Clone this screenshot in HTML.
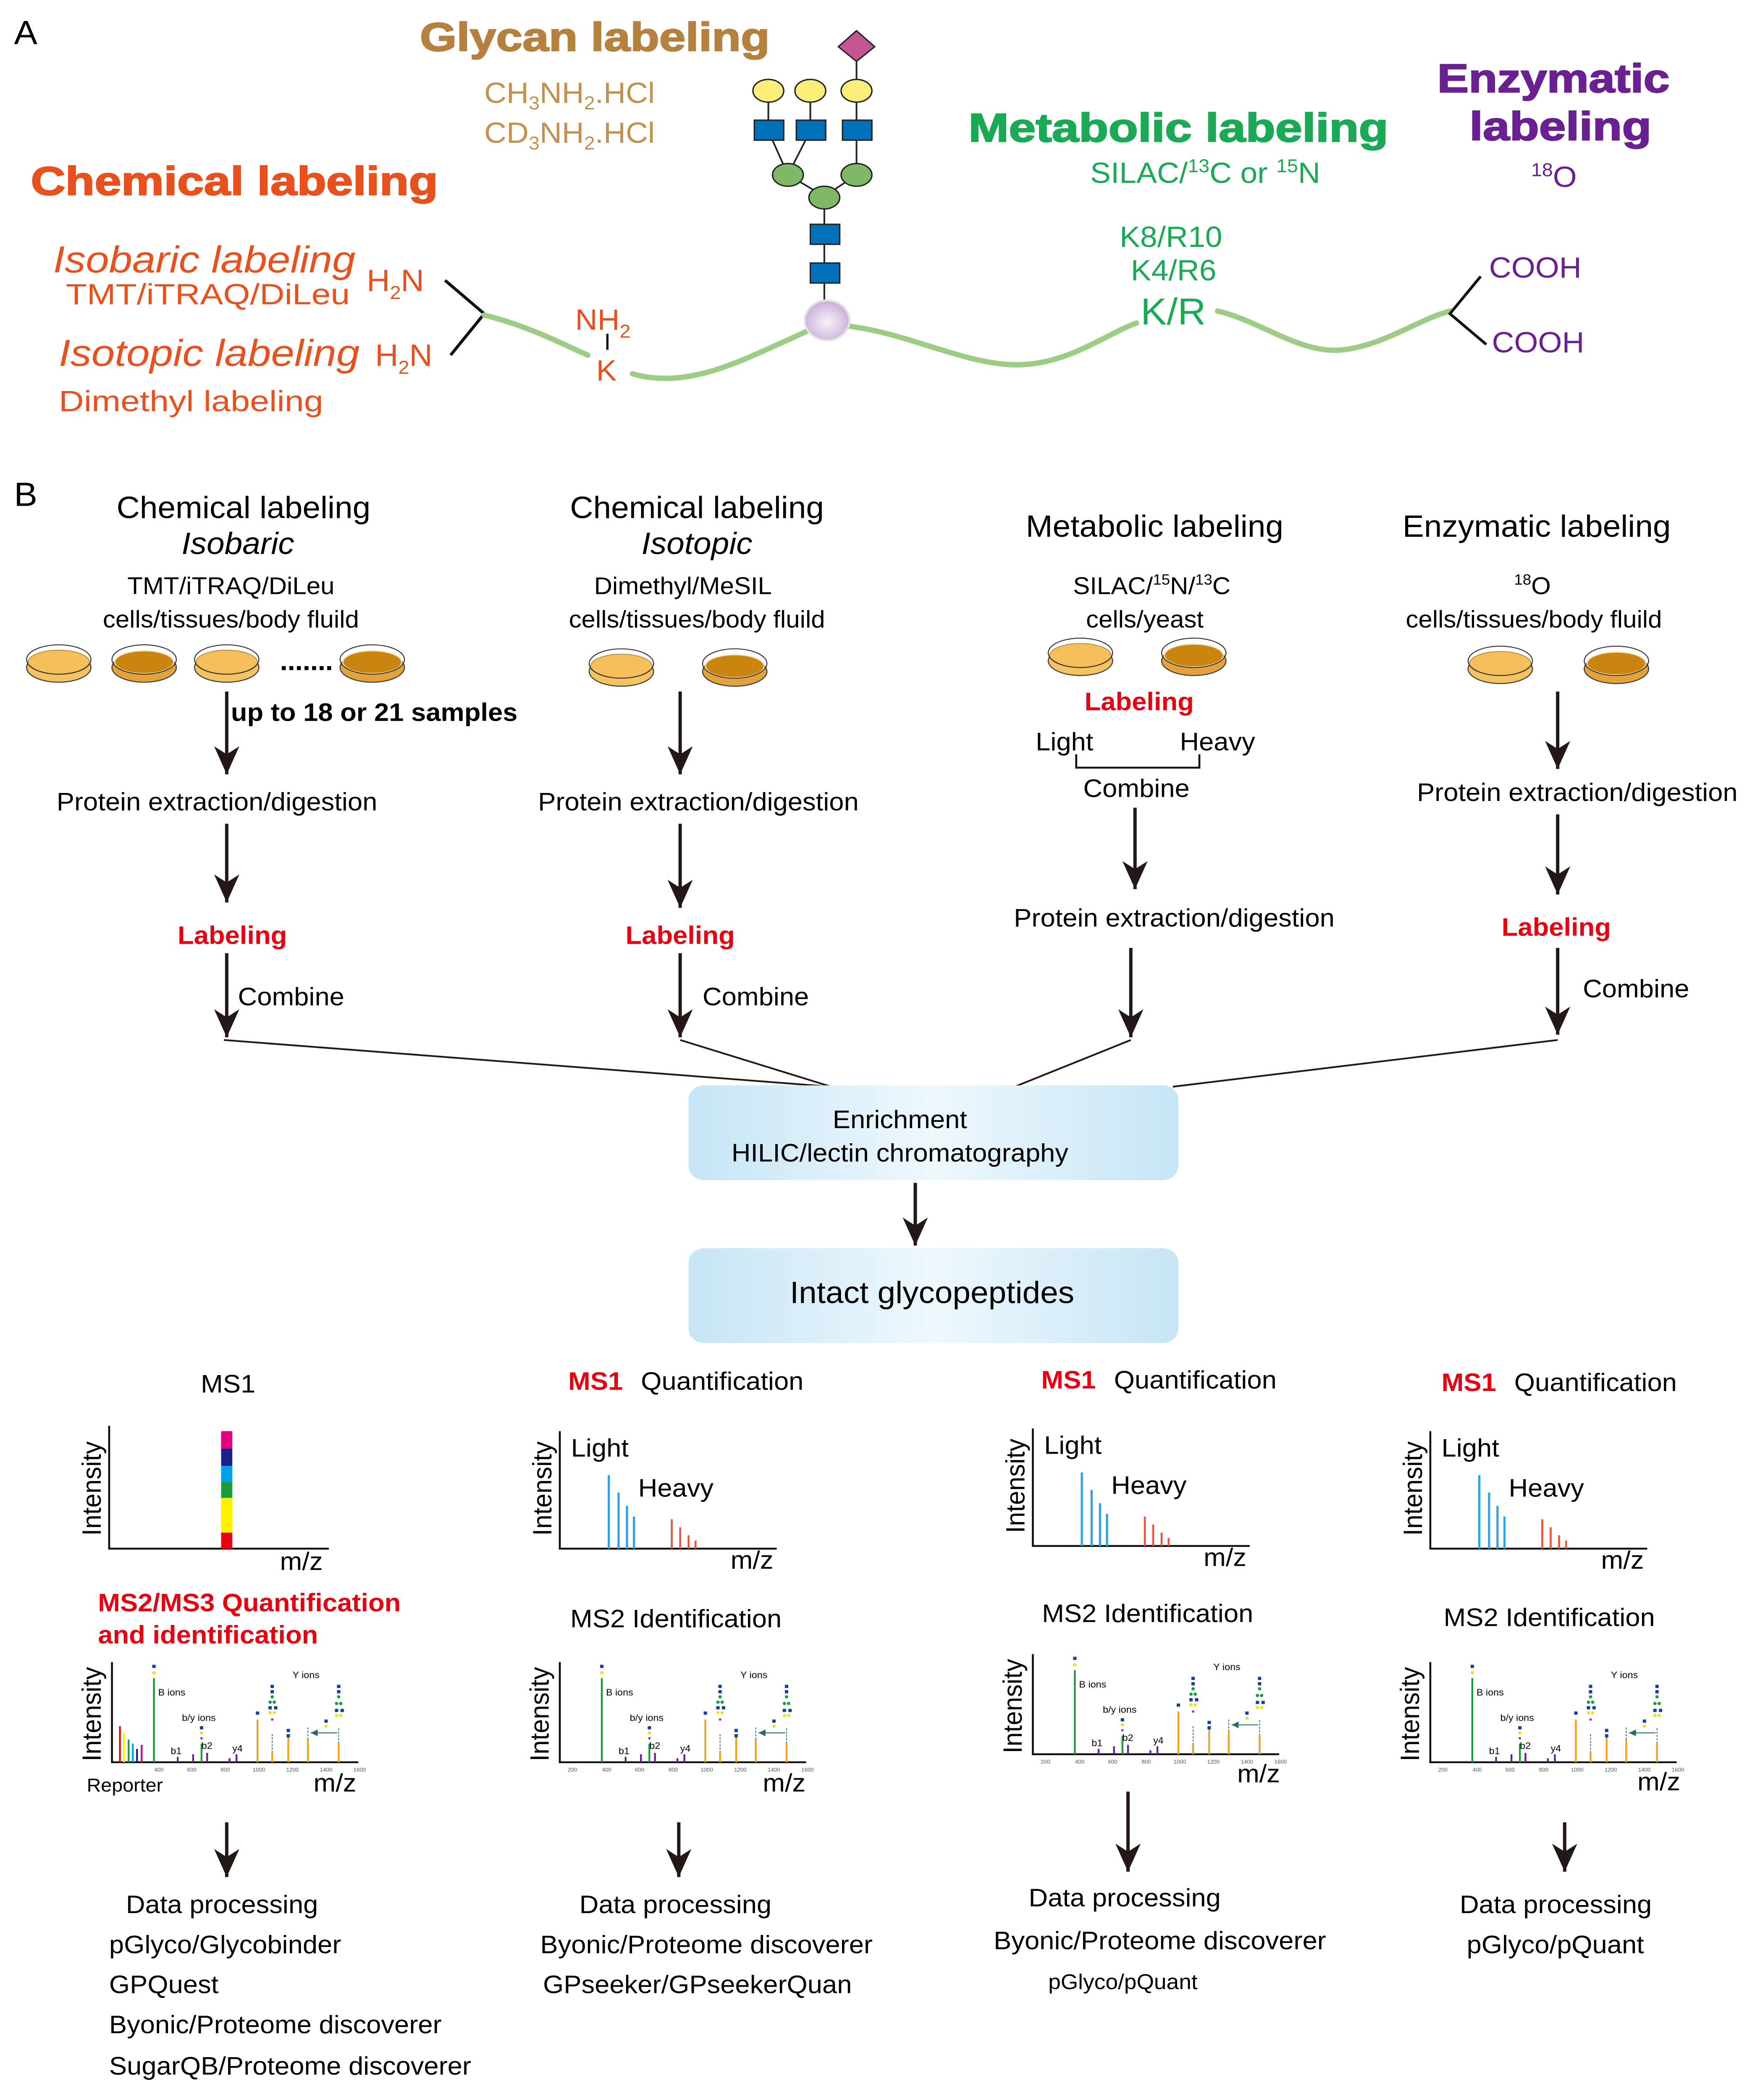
<!DOCTYPE html>
<html><head><meta charset="utf-8"><style>
html,body{margin:0;padding:0;background:#fff;width:100%;height:100%;overflow:hidden}
svg{display:block;width:100vw;height:100vh;position:absolute;left:0;top:0}
text{font-family:"Liberation Sans",Arial,sans-serif}
</style></head><body>
<svg viewBox="0 0 1254 1573" preserveAspectRatio="none" xmlns="http://www.w3.org/2000/svg">
<defs>
<marker id="ah" markerUnits="userSpaceOnUse" markerWidth="24" markerHeight="24" viewBox="-22 -11 24 22" refX="0" refY="0" orient="auto">
<path d="M0,0 L-21,-9 L-15,0 L-21,9 Z" fill="#231815"/>
</marker>
<marker id="sa" markerUnits="userSpaceOnUse" markerWidth="6" markerHeight="6" viewBox="-6 -3 6 6" refX="0" refY="0" orient="auto">
<path d="M0,0 L-5,-2.5 L-5,2.5 Z" fill="#2b6a6a"/>
</marker>
<linearGradient id="bx" x1="0" x2="1" y1="0" y2="0">
<stop offset="0" stop-color="#c6e5f5"/><stop offset="0.5" stop-color="#eef8fd"/><stop offset="1" stop-color="#c6e5f5"/>
</linearGradient>
<radialGradient id="ball" cx="0.5" cy="0.55" r="0.55">
<stop offset="0" stop-color="#f8f2fb"/><stop offset="1" stop-color="#c9acd8"/>
</radialGradient>
<g id="ms2">
<path d="M0,-75 V0 H176" fill="none" stroke="#111" stroke-width="1.4"/>
<g stroke-width="1.3">
<line x1="30" y1="0" x2="30" y2="-63" stroke="#1a9a3a"/>
<line x1="64" y1="0" x2="64" y2="-14" stroke="#1a9a3a"/>
<g stroke="#6a1b9a"><line x1="47" y1="0" x2="47" y2="-4"/><line x1="58" y1="0" x2="58" y2="-6"/><line x1="68" y1="0" x2="68" y2="-7"/><line x1="84" y1="0" x2="84" y2="-3"/><line x1="89" y1="0" x2="89" y2="-6"/></g>
<g stroke="#f5a010"><line x1="104" y1="0" x2="104" y2="-32"/><line x1="114.5" y1="0" x2="114.5" y2="-7"/><line x1="126" y1="0" x2="126" y2="-19"/><line x1="140" y1="0" x2="140" y2="-17"/><line x1="162" y1="0" x2="162" y2="-14"/></g>
</g>
<g stroke="#2b6a6a" stroke-width="0.6" stroke-dasharray="1.5,1"><line x1="114.5" y1="-7" x2="114.5" y2="-22"/><line x1="162" y1="-14" x2="162" y2="-26"/><line x1="140" y1="-17" x2="140" y2="-26"/></g>
<line x1="161" y1="-22" x2="142" y2="-22" stroke="#2b6a6a" stroke-width="0.7" marker-end="url(#sa)"/>
<g fill="#1040a0">
<rect x="28.8" y="-73" width="2.4" height="2.4"/><rect x="62.8" y="-27" width="2.4" height="2.4"/><rect x="102.8" y="-38" width="2.4" height="2.4"/>
<rect x="113.3" y="-58" width="2.4" height="2.4"/><rect x="113.3" y="-54" width="2.4" height="2.4"/><rect x="111.8" y="-42" width="2.4" height="2.4"/><rect x="115.8" y="-42" width="2.4" height="2.4"/>
<rect x="124.8" y="-25" width="2.4" height="2.4"/><rect x="124.8" y="-21" width="2.4" height="2.4"/>
<rect x="160.8" y="-58" width="2.4" height="2.4"/><rect x="160.8" y="-54" width="2.4" height="2.4"/><rect x="159.3" y="-40" width="2.4" height="2.4"/><rect x="163.3" y="-40" width="2.4" height="2.4"/>
<rect x="151.8" y="-32" width="2.4" height="2.4"/></g>
<g fill="#1a9a3a"><circle cx="114.5" cy="-49" r="1.2"/><circle cx="113" cy="-45" r="1.2"/><circle cx="116" cy="-45" r="1.2"/><circle cx="162" cy="-49" r="1.2"/><circle cx="160.5" cy="-44" r="1.2"/><circle cx="163.5" cy="-44" r="1.2"/></g>
<g fill="#f0e020"><circle cx="30" cy="-67" r="1.3"/><circle cx="64" cy="-22" r="1.2"/><circle cx="113" cy="-37" r="1.2"/><circle cx="116" cy="-37" r="1.2"/><circle cx="160.5" cy="-35" r="1.2"/><circle cx="163.5" cy="-35" r="1.2"/><circle cx="153" cy="-27" r="1.2"/></g>
<g fill="#a03090"><circle cx="64" cy="-18" r="0.9"/><circle cx="114.5" cy="-32" r="0.9"/></g>
</g>
<g id="dishL">
<ellipse cx="0" cy="3" rx="23" ry="11" fill="#f6c363" stroke="#444" stroke-width="0.8"/>
<ellipse cx="0" cy="-1" rx="22" ry="9" fill="#f4bf5a" stroke="#b08a40" stroke-width="0.6"/>
<ellipse cx="0" cy="-3" rx="23" ry="11" fill="none" stroke="#333" stroke-width="0.7"/>
</g>
<g id="dishD">
<ellipse cx="0" cy="3" rx="23" ry="11" fill="#e3a33a" stroke="#444" stroke-width="0.8"/>
<ellipse cx="0" cy="-1" rx="21" ry="8.5" fill="#c98510" stroke="#f6e2b0" stroke-width="0.8"/>
<ellipse cx="0" cy="-3" rx="23" ry="11" fill="none" stroke="#333" stroke-width="0.7"/>
</g>
</defs>

<!-- ============ A ============ -->
<text x="10" y="33" font-size="25">A</text>
<text x="300" y="38" font-size="30" font-weight="bold" fill="#b5813e" textLength="250" lengthAdjust="spacingAndGlyphs" stroke="#b5813e" stroke-width="0.8">Glycan labeling</text>
<text x="346" y="77" font-size="22" fill="#c4924e">CH<tspan font-size="14" dy="5">3</tspan><tspan dy="-5">NH</tspan><tspan font-size="14" dy="5">2</tspan><tspan dy="-5">.HCl</tspan></text>
<text x="346" y="107" font-size="22" fill="#c4924e">CD<tspan font-size="14" dy="5">3</tspan><tspan dy="-5">NH</tspan><tspan font-size="14" dy="5">2</tspan><tspan dy="-5">.HCl</tspan></text>

<text x="692" y="106" font-size="30" font-weight="bold" fill="#1aaa55" textLength="300" lengthAdjust="spacingAndGlyphs" stroke="#1aaa55" stroke-width="0.8">Metabolic labeling</text>
<text x="779" y="137" font-size="22" fill="#1aaa55">SILAC/<tspan font-size="14" dy="-8">13</tspan><tspan dy="8">C or </tspan><tspan font-size="14" dy="-8">15</tspan><tspan dy="8">N</tspan></text>
<text x="1027" y="69" font-size="30" font-weight="bold" fill="#6a2090" textLength="166" lengthAdjust="spacingAndGlyphs" stroke="#6a2090" stroke-width="0.8">Enzymatic</text>
<text x="1050" y="105" font-size="30" font-weight="bold" fill="#6a2090" textLength="130" lengthAdjust="spacingAndGlyphs" stroke="#6a2090" stroke-width="0.8">labeling</text>
<text x="1094" y="140" font-size="22" fill="#6a2090"><tspan font-size="14" dy="-8">18</tspan><tspan dy="8">O</tspan></text>

<text x="22" y="146" font-size="30" font-weight="bold" fill="#e8501e" textLength="291" lengthAdjust="spacingAndGlyphs" stroke="#e8501e" stroke-width="0.8">Chemical labeling</text>
<text x="38" y="204" font-size="28" font-style="italic" fill="#e8501e" textLength="216" lengthAdjust="spacingAndGlyphs">Isobaric labeling</text>
<text x="47" y="228" font-size="22" fill="#e8501e" textLength="203" lengthAdjust="spacingAndGlyphs">TMT/iTRAQ/DiLeu</text>
<text x="42" y="274" font-size="28" font-style="italic" fill="#e8501e" textLength="215" lengthAdjust="spacingAndGlyphs">Isotopic labeling</text>
<text x="42" y="308" font-size="22" fill="#e8501e" textLength="189" lengthAdjust="spacingAndGlyphs">Dimethyl labeling</text>
<text x="262" y="218" font-size="23" fill="#e8501e">H<tspan font-size="14" dy="6">2</tspan><tspan dy="-6">N</tspan></text>
<text x="268" y="274" font-size="23" fill="#e8501e">H<tspan font-size="14" dy="6">2</tspan><tspan dy="-6">N</tspan></text>
<path d="M318,210 L346,235 L322,266" fill="none" stroke="#111" stroke-width="2.2"/>
<text x="411" y="247" font-size="22" fill="#e8501e">NH<tspan font-size="14" dy="6">2</tspan></text>
<line x1="434" y1="250" x2="434" y2="262" stroke="#111" stroke-width="1.6"/>
<text x="426" y="285" font-size="22" fill="#e8501e">K</text>

<g fill="none" stroke="#9dcd84" stroke-width="4" stroke-linecap="round">
<path d="M346,236 C380,245 402,258 420,266"/>
<path d="M452,280 C490,292 530,270 560,256 C575,249 582,245 590,243"/>
<path d="M592,243 C640,245 680,270 720,273 C760,276 790,250 812,242"/>
<path d="M870,233 C900,240 930,266 960,262 C990,258 1012,240 1036,233"/>
</g>
<text x="800" y="185" font-size="22" fill="#1aaa55">K8/R10</text>
<text x="808" y="210" font-size="22" fill="#1aaa55">K4/R6</text>
<text x="815" y="243" font-size="28" fill="#1aaa55">K/R</text>
<path d="M1058,207 L1036,235 L1062,258" fill="none" stroke="#111" stroke-width="2"/>
<text x="1064" y="208" font-size="22" fill="#6a2090">COOH</text>
<text x="1066" y="264" font-size="22" fill="#6a2090">COOH</text>

<!-- glycan -->
<g stroke="#222" stroke-width="1.2" fill="none">
<line x1="612" y1="35" x2="612" y2="98"/><line x1="549" y1="68" x2="549" y2="98"/><line x1="579" y1="68" x2="579" y2="98"/>
<line x1="549" y1="98" x2="563" y2="131"/><line x1="579" y1="98" x2="563" y2="131"/><line x1="612" y1="98" x2="612" y2="131"/>
<line x1="563" y1="131" x2="589" y2="147"/><line x1="612" y1="131" x2="589" y2="147"/><line x1="589" y1="147" x2="589" y2="228"/>
</g>
<path d="M612,23 L625,35 L612,46 L599,35 Z" fill="#c45592" stroke="#222" stroke-width="1"/>
<g fill="#fbef7a" stroke="#222" stroke-width="1"><ellipse cx="549" cy="68" rx="11" ry="8.5"/><ellipse cx="579" cy="68" rx="11" ry="8.5"/><ellipse cx="612" cy="68" rx="11" ry="8.5"/></g>
<g fill="#0070b8" stroke="#222" stroke-width="1"><rect x="539" y="90" width="21" height="15"/><rect x="569" y="90" width="21" height="15"/><rect x="602" y="90" width="21" height="15"/><rect x="579" y="168" width="21" height="15"/><rect x="579" y="197" width="21" height="15"/></g>
<g fill="#7fb967" stroke="#222" stroke-width="1"><ellipse cx="563" cy="131" rx="11" ry="8.5"/><ellipse cx="612" cy="131" rx="11" ry="8.5"/><ellipse cx="589" cy="148" rx="11" ry="8.5"/></g>
<ellipse cx="591" cy="240" rx="16" ry="15" fill="url(#ball)" stroke="#e4e4e4" stroke-width="1.5"/>

<!-- ============ B ============ -->
<text x="10" y="379" font-size="25">B</text>
<g font-size="23" text-anchor="middle">
<text x="174" y="388">Chemical labeling</text>
<text x="170" y="415" font-style="italic">Isobaric</text>
<text x="498" y="388">Chemical labeling</text>
<text x="498" y="415" font-style="italic">Isotopic</text>
<text x="825" y="402">Metabolic labeling</text>
<text x="1098" y="402">Enzymatic labeling</text>
</g>
<g font-size="18" text-anchor="middle">
<text x="165" y="445">TMT/iTRAQ/DiLeu</text>
<text x="165" y="470">cells/tissues/body fluild</text>
<text x="488" y="445">Dimethyl/MeSIL</text>
<text x="498" y="470">cells/tissues/body fluild</text>
<text x="823" y="445">SILAC/<tspan font-size="11" dy="-7">15</tspan><tspan dy="7">N/</tspan><tspan font-size="11" dy="-7">13</tspan><tspan dy="7">C</tspan></text>
<text x="818" y="470">cells/yeast</text>
<text x="1095" y="445"><tspan font-size="11" dy="-7">18</tspan><tspan dy="7">O</tspan></text>
<text x="1096" y="470">cells/tissues/body fluild</text>
</g>

<use href="#dishL" x="42" y="497"/><use href="#dishD" x="103" y="497"/><use href="#dishL" x="162" y="497"/><use href="#dishD" x="266" y="497"/>
<text x="200" y="502" font-size="20" font-weight="bold" textLength="38" lengthAdjust="spacing">.......</text>
<use href="#dishL" x="444" y="500"/><use href="#dishD" x="525" y="500"/>
<use href="#dishL" x="772" y="492"/><use href="#dishD" x="853" y="492"/>
<use href="#dishL" x="1072" y="498"/><use href="#dishD" x="1155" y="498"/>

<g stroke="#231815" stroke-width="2.4" marker-end="url(#ah)">
<line x1="162" y1="518" x2="162" y2="580"/>
<line x1="162" y1="617" x2="162" y2="676"/>
<line x1="162" y1="714" x2="162" y2="777"/>
<line x1="486" y1="518" x2="486" y2="580"/>
<line x1="486" y1="617" x2="486" y2="680"/>
<line x1="486" y1="714" x2="486" y2="777"/>
<line x1="811" y1="605" x2="811" y2="666"/>
<line x1="808" y1="710" x2="808" y2="777"/>
<line x1="1113" y1="518" x2="1113" y2="576"/>
<line x1="1113" y1="610" x2="1113" y2="670"/>
<line x1="1113" y1="710" x2="1113" y2="775"/>
<line x1="654" y1="886" x2="654" y2="933"/>
<line x1="162" y1="1365" x2="162" y2="1406"/>
<line x1="485" y1="1365" x2="485" y2="1406"/>
<line x1="806" y1="1342" x2="806" y2="1402"/>
<line x1="1118" y1="1365" x2="1118" y2="1402"/>
</g>
<text x="165" y="540" font-size="19" font-weight="bold">up to 18 or 21 samples</text>
<g font-size="19" text-anchor="middle">
<text x="155" y="607">Protein extraction/digestion</text>
<text x="499" y="607">Protein extraction/digestion</text>
<text x="839" y="694">Protein extraction/digestion</text>
<text x="1127" y="600">Protein extraction/digestion</text>
<text x="812" y="597">Combine</text>
</g>
<g font-size="19" font-weight="bold" fill="#e60012" text-anchor="middle">
<text x="166" y="707">Labeling</text>
<text x="486" y="707">Labeling</text>
<text x="814" y="532">Labeling</text>
<text x="1112" y="701">Labeling</text>
</g>
<g font-size="19">
<text x="170" y="753">Combine</text>
<text x="502" y="753">Combine</text>
<text x="1131" y="747">Combine</text>
<text x="740" y="562">Light</text>
<text x="843" y="562">Heavy</text>
</g>
<path d="M769,565 V575 H857 V565" fill="none" stroke="#111" stroke-width="1.4"/>
<g stroke="#231815" stroke-width="1.3">
<line x1="160" y1="779" x2="594" y2="814"/>
<line x1="486" y1="779" x2="594" y2="814"/>
<line x1="808" y1="779" x2="725" y2="814"/>
<line x1="1113" y1="779" x2="838" y2="814"/>
</g>
<rect x="492" y="813" width="350" height="71" rx="11" fill="url(#bx)"/>
<text x="643" y="845" font-size="19" text-anchor="middle">Enrichment</text>
<text x="643" y="870" font-size="19" text-anchor="middle">HILIC/lectin chromatography</text>
<rect x="492" y="935" width="350" height="71" rx="11" fill="url(#bx)"/>
<text x="666" y="976" font-size="23" text-anchor="middle">Intact glycopeptides</text>

<!-- MS1 row -->
<text x="163" y="1043" font-size="19" text-anchor="middle">MS1</text>
<g font-size="19"><text x="406" y="1041" font-weight="bold" fill="#e60012">MS1</text><text x="458" y="1041">Quantification</text>
<text x="744" y="1040" font-weight="bold" fill="#e60012">MS1</text><text x="796" y="1040">Quantification</text>
<text x="1030" y="1042" font-weight="bold" fill="#e60012">MS1</text><text x="1082" y="1042">Quantification</text></g>

<!-- col1 MS1 -->
<path d="M78,1068 V1160 H235" fill="none" stroke="#111" stroke-width="1.4"/>
<text transform="translate(72,1115) rotate(-90)" font-size="19" text-anchor="middle">Intensity</text>
<rect x="158" y="1072" width="8" height="13" fill="#e4007f"/>
<rect x="158" y="1085" width="8" height="13" fill="#1d2088"/>
<rect x="158" y="1098" width="8" height="12" fill="#00a0e9"/>
<rect x="158" y="1110" width="8" height="12" fill="#1a9a3a"/>
<rect x="158" y="1122" width="8" height="26" fill="#fff100"/>
<rect x="158" y="1148" width="8" height="12" fill="#e60012"/>
<text x="200" y="1176" font-size="19">m/z</text>

<!-- MS1 quant plots -->
<g transform="translate(400,1160)">
<path d="M0,-88 V0 H155" fill="none" stroke="#111" stroke-width="1.4"/>
<g stroke="#2aa5e8" stroke-width="1.6"><line x1="35" y1="0" x2="35" y2="-55"/><line x1="42" y1="0" x2="42" y2="-42"/><line x1="48" y1="0" x2="48" y2="-32"/><line x1="53" y1="0" x2="53" y2="-24"/></g>
<g stroke="#e8553a" stroke-width="1.4"><line x1="80" y1="0" x2="80" y2="-22"/><line x1="86" y1="0" x2="86" y2="-16"/><line x1="92" y1="0" x2="92" y2="-10"/><line x1="97" y1="0" x2="97" y2="-6"/></g>
<text x="8" y="-69" font-size="19">Light</text><text x="56" y="-39" font-size="19">Heavy</text>
<text x="122" y="15" font-size="19">m/z</text>
<text transform="translate(-6,-45) rotate(-90)" font-size="19" text-anchor="middle">Intensity</text>
</g>
<g transform="translate(738,1158)">
<path d="M0,-88 V0 H155" fill="none" stroke="#111" stroke-width="1.4"/>
<g stroke="#2aa5e8" stroke-width="1.6"><line x1="35" y1="0" x2="35" y2="-55"/><line x1="42" y1="0" x2="42" y2="-42"/><line x1="48" y1="0" x2="48" y2="-32"/><line x1="53" y1="0" x2="53" y2="-24"/></g>
<g stroke="#e8553a" stroke-width="1.4"><line x1="80" y1="0" x2="80" y2="-22"/><line x1="86" y1="0" x2="86" y2="-16"/><line x1="92" y1="0" x2="92" y2="-10"/><line x1="97" y1="0" x2="97" y2="-6"/></g>
<text x="8" y="-69" font-size="19">Light</text><text x="56" y="-39" font-size="19">Heavy</text>
<text x="122" y="15" font-size="19">m/z</text>
<text transform="translate(-6,-45) rotate(-90)" font-size="19" text-anchor="middle">Intensity</text>
</g>
<g transform="translate(1022,1160)">
<path d="M0,-88 V0 H155" fill="none" stroke="#111" stroke-width="1.4"/>
<g stroke="#2aa5e8" stroke-width="1.6"><line x1="35" y1="0" x2="35" y2="-55"/><line x1="42" y1="0" x2="42" y2="-42"/><line x1="48" y1="0" x2="48" y2="-32"/><line x1="53" y1="0" x2="53" y2="-24"/></g>
<g stroke="#e8553a" stroke-width="1.4"><line x1="80" y1="0" x2="80" y2="-22"/><line x1="86" y1="0" x2="86" y2="-16"/><line x1="92" y1="0" x2="92" y2="-10"/><line x1="97" y1="0" x2="97" y2="-6"/></g>
<text x="8" y="-69" font-size="19">Light</text><text x="56" y="-39" font-size="19">Heavy</text>
<text x="122" y="15" font-size="19">m/z</text>
<text transform="translate(-6,-45) rotate(-90)" font-size="19" text-anchor="middle">Intensity</text>
</g>

<text x="70" y="1207" font-size="19" font-weight="bold" fill="#e60012">MS2/MS3 Quantification</text>
<text x="70" y="1231" font-size="19" font-weight="bold" fill="#e60012">and identification</text>
<g font-size="19" text-anchor="middle">
<text x="483" y="1219">MS2  Identification</text>
<text x="820" y="1215">MS2  Identification</text>
<text x="1107" y="1218">MS2  Identification</text>
</g>

<!-- MS2 spectra -->
<g transform="translate(80,1320)">
<use href="#ms2"/>
<g stroke-width="1.3"><line x1="5.7" y1="0" x2="5.7" y2="-27" stroke="#e60012"/><line x1="8.6" y1="0" x2="8.6" y2="-22" stroke="#fff100"/><line x1="11.9" y1="0" x2="11.9" y2="-17" stroke="#1a9a3a"/><line x1="14.9" y1="0" x2="14.9" y2="-14" stroke="#00a0e9"/><line x1="17.9" y1="0" x2="17.9" y2="-10" stroke="#1d2088"/><line x1="21.2" y1="0" x2="21.2" y2="-13" stroke="#e4007f"/></g>
<g font-size="7"><text x="33" y="-50">B ions</text><text x="50" y="-31">b/y ions</text><text x="42" y="-6">b1</text><text x="64" y="-10">b2</text><text x="86" y="-8">y4</text><text x="129" y="-63">Y ions</text></g>
<g font-size="4" fill="#555" text-anchor="middle"><text x="33.5" y="7">400</text><text x="57" y="7">600</text><text x="81" y="7">800</text><text x="105" y="7">1000</text><text x="129" y="7">1200</text><text x="153" y="7">1400</text><text x="177" y="7">1600</text></g>
<text transform="translate(-8,-36) rotate(-90)" font-size="19" text-anchor="middle">Intensity</text>
<text x="-18" y="22" font-size="14">Reporter</text>
<text x="144" y="22" font-size="19">m/z</text>
</g>
<g transform="translate(400,1320)">
<use href="#ms2"/>
<g font-size="7"><text x="33" y="-50">B ions</text><text x="50" y="-31">b/y ions</text><text x="42" y="-6">b1</text><text x="64" y="-10">b2</text><text x="86" y="-8">y4</text><text x="129" y="-63">Y ions</text></g>
<g font-size="4" fill="#555" text-anchor="middle"><text x="9" y="7">200</text><text x="33.5" y="7">400</text><text x="57" y="7">600</text><text x="81" y="7">800</text><text x="105" y="7">1000</text><text x="129" y="7">1200</text><text x="153" y="7">1400</text><text x="177" y="7">1600</text></g>
<text transform="translate(-8,-36) rotate(-90)" font-size="19" text-anchor="middle">Intensity</text>
<text x="145" y="22" font-size="19">m/z</text>
</g>
<g transform="translate(738,1314)">
<use href="#ms2"/>
<g font-size="7"><text x="33" y="-50">B ions</text><text x="50" y="-31">b/y ions</text><text x="42" y="-6">b1</text><text x="64" y="-10">b2</text><text x="86" y="-8">y4</text><text x="129" y="-63">Y ions</text></g>
<g font-size="4" fill="#555" text-anchor="middle"><text x="9" y="7">200</text><text x="33.5" y="7">400</text><text x="57" y="7">600</text><text x="81" y="7">800</text><text x="105" y="7">1000</text><text x="129" y="7">1200</text><text x="153" y="7">1400</text><text x="177" y="7">1600</text></g>
<text transform="translate(-8,-36) rotate(-90)" font-size="19" text-anchor="middle">Intensity</text>
<text x="146" y="21" font-size="19">m/z</text>
</g>
<g transform="translate(1022,1320)">
<use href="#ms2"/>
<g font-size="7"><text x="33" y="-50">B ions</text><text x="50" y="-31">b/y ions</text><text x="42" y="-6">b1</text><text x="64" y="-10">b2</text><text x="86" y="-8">y4</text><text x="129" y="-63">Y ions</text></g>
<g font-size="4" fill="#555" text-anchor="middle"><text x="9" y="7">200</text><text x="33.5" y="7">400</text><text x="57" y="7">600</text><text x="81" y="7">800</text><text x="105" y="7">1000</text><text x="129" y="7">1200</text><text x="153" y="7">1400</text><text x="177" y="7">1600</text></g>
<text transform="translate(-8,-36) rotate(-90)" font-size="19" text-anchor="middle">Intensity</text>
<text x="148" y="21" font-size="19">m/z</text>
</g>

<!-- data processing -->
<g font-size="19">
<text x="90" y="1433">Data processing</text>
<text x="78" y="1463">pGlyco/Glycobinder</text>
<text x="78" y="1493">GPQuest</text>
<text x="78" y="1523">Byonic/Proteome discoverer</text>
<text x="78" y="1554">SugarQB/Proteome discoverer</text>
<text x="414" y="1433">Data processing</text>
<text x="386" y="1463">Byonic/Proteome discoverer</text>
<text x="388" y="1493">GPseeker/GPseekerQuan</text>
<text x="735" y="1428">Data processing</text>
<text x="710" y="1460">Byonic/Proteome discoverer</text>
<text x="1043" y="1433">Data processing</text>
<text x="1048" y="1463">pGlyco/pQuant</text>
</g>
<text x="749" y="1490" font-size="16">pGlyco/pQuant</text>
</svg>
</body></html>
